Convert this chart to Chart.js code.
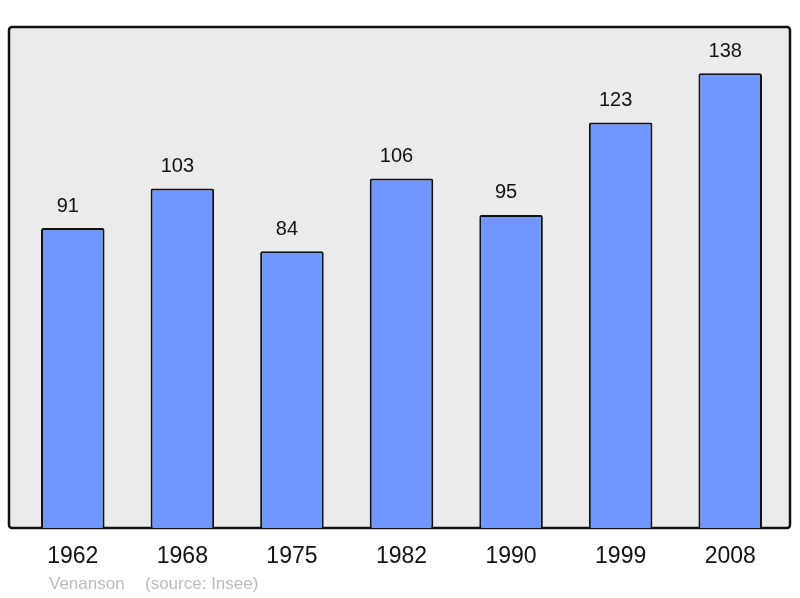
<!DOCTYPE html>
<html>
<head>
<meta charset="utf-8">
<script src="https://cdn.jsdelivr.net/npm/chart.js@4"></script>
<style>
  html, body { margin: 0; padding: 0; background: #ffffff; }
  #wrap { width: 800px; height: 598px; }
</style>
</head>
<body>
<div id="wrap"><canvas id="chart" width="800" height="598"></canvas></div>
<script>
// Population data (Venanson)
const years = ['1962', '1968', '1975', '1982', '1990', '1999', '2008'];
const population = [91, 103, 84, 106, 95, 123, 138];
const footerName = 'Venanson';
const footerSource = '(source: Insee)';

// Grey frame behind the bars
const framePlugin = {
  id: 'frame',
  beforeDraw(chart) {
    const { ctx, chartArea } = chart;
    const x0 = 9, y0 = 27, x1 = 790, y1 = chartArea.bottom;
    ctx.save();
    ctx.beginPath();
    ctx.roundRect(x0, y0, x1 - x0, y1 - y0, 3);
    ctx.fillStyle = '#ebebeb';
    ctx.fill();
    ctx.lineWidth = 2.5;
    ctx.strokeStyle = '#111111';
    ctx.stroke();
    ctx.restore();
  },
  afterDraw(chart) {
    const { ctx } = chart;
    ctx.save();
    ctx.font = '17px "Liberation Sans", Arial, sans-serif';
    ctx.fillStyle = '#bbbbbb';
    ctx.textBaseline = 'middle';
    ctx.fillText(footerName, 49, 584);
    ctx.fillText(footerSource, 145, 584);
    ctx.restore();
  }
};

// Value labels above bars
const valueLabels = {
  id: 'valueLabels',
  afterDatasetsDraw(chart) {
    const { ctx } = chart;
    const meta = chart.getDatasetMeta(0);
    ctx.save();
    ctx.font = '20px "Liberation Sans", Arial, sans-serif';
    ctx.fillStyle = '#111111';
    ctx.textAlign = 'center';
    ctx.textBaseline = 'middle';
    meta.data.forEach((bar, i) => {
      ctx.fillText(String(population[i]), bar.x - 5, bar.y - 22);
    });
    ctx.restore();
  }
};

new Chart(document.getElementById('chart'), {
  type: 'bar',
  data: {
    labels: years,
    datasets: [{
      data: population,
      backgroundColor: '#7097ff',
      borderColor: '#111111',
      borderWidth: 2,
      borderRadius: 2,
      borderSkipped: 'bottom',
      barPercentage: 0.58,
      categoryPercentage: 1.0
    }]
  },
  options: {
    responsive: false,
    animation: false,
    layout: { padding: { left: 18, right: 15, top: 27, bottom: 0 } },
    plugins: {
      legend: { display: false },
      tooltip: { enabled: false }
    },
    scales: {
      x: {
        grid: { display: false, drawTicks: false },
        border: { display: false },
        ticks: {
          color: '#111111',
          font: { size: 23, family: '"Liberation Sans", Arial, sans-serif' },
          padding: 15
        },
        afterFit(scale) { scale.height = 70; }
      },
      y: {
        display: false,
        min: 0,
        max: 152
      }
    }
  },
  plugins: [framePlugin, valueLabels]
});
</script>
</body>
</html>
